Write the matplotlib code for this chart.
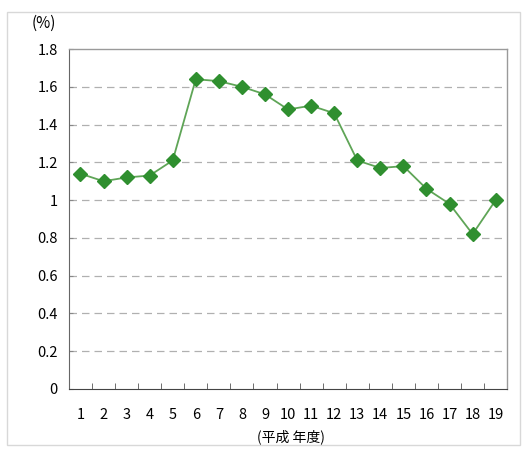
import matplotlib
matplotlib.use('Agg')
import matplotlib.pyplot as plt
from matplotlib.patches import Rectangle

plt.rcParams['font.family'] = ['Noto Sans CJK JP', 'DejaVu Sans']

# 平成 年度
years = list(range(1, 20))
rates = [1.14, 1.10, 1.12, 1.13, 1.21, 1.64, 1.63, 1.60, 1.56, 1.48,
         1.50, 1.46, 1.21, 1.17, 1.18, 1.06, 0.98, 0.82, 1.00]
y_ticks = [0, 0.2, 0.4, 0.6, 0.8, 1, 1.2, 1.4, 1.6, 1.8]
y_tick_labels = ['0', '0.2', '0.4', '0.6', '0.8', '1', '1.2', '1.4', '1.6', '1.8']

fig = plt.figure(figsize=(5.3, 4.53), dpi=100)
ax = fig.add_axes([0.130, 0.1413, 0.827, 0.7505])

# outer frame
fig.patches.append(Rectangle((0.013, 0.018), 0.969, 0.955, transform=fig.transFigure,
                             fill=False, edgecolor='#d8d8d8', linewidth=1))

for y in y_ticks[1:-1]:
    ax.axhline(y, color='#b0b0b0', linestyle=(0, (6, 4)), linewidth=0.9, zorder=1)

ax.plot(years, rates, color='#5fa557', linewidth=1.3, marker='D', markersize=7,
        markerfacecolor='#2f8f2f', markeredgecolor='#2f8f2f', zorder=3)

ax.set_xlim(0.5, 19.5)
ax.set_ylim(0, 1.8)
ax.set_yticks(y_ticks)
ax.set_yticklabels(y_tick_labels, fontsize=10.5)
ax.set_xticks(years)
ax.set_xticklabels([str(v) for v in years], fontsize=10.5)
ax.set_xticks([v + 0.5 for v in years[:-1]], minor=True)
ax.tick_params(axis='x', which='major', length=0, pad=14)
ax.tick_params(axis='x', which='minor', length=4, direction='in', color='#555555')
ax.tick_params(axis='y', length=3, direction='in', color='#888888', pad=8)

for side in ['top', 'right']:
    ax.spines[side].set_color('#9a9a9a')
    ax.spines[side].set_linewidth(1)
ax.spines['left'].set_color('#666666')
ax.spines['bottom'].set_color('#444444')

fig.text(0.082, 0.948, '(%)', fontsize=11, ha='center', va='center')
fig.text(0.548, 0.035, '(平成 年度)', fontsize=10, ha='center', va='center')

fig.savefig('out.png', dpi=100)
